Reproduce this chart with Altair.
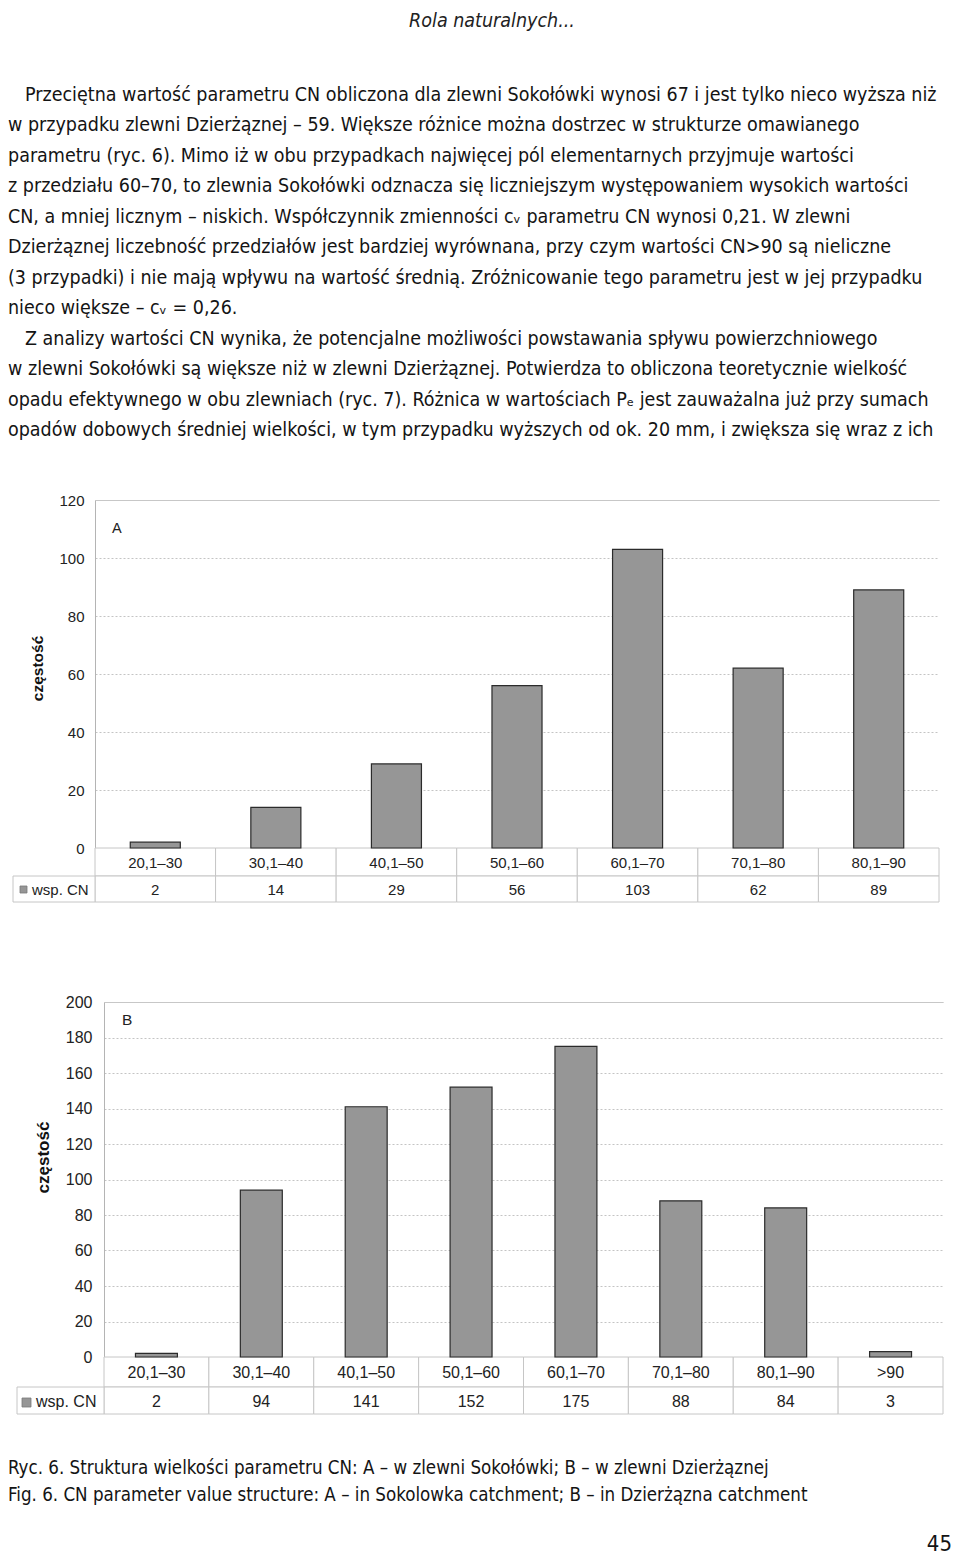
import altair as alt
import pandas as pd

NARROW = "DejaVu Sans Condensed, Liberation Sans Narrow, sans-serif"
SANS = "Liberation Sans, Arial, sans-serif"

header_text = "Rola naturalnych..."
paragraph_lines = [
    "Przeciętna wartość parametru CN obliczona dla zlewni Sokołówki wynosi 67 i jest tylko nieco wyższa niż",
    "w przypadku zlewni Dzierżąznej – 59. Większe różnice można dostrzec w strukturze omawianego",
    "parametru (ryc. 6). Mimo iż w obu przypadkach najwięcej pól elementarnych przyjmuje wartości",
    "z przedziału 60–70, to zlewnia Sokołówki odznacza się liczniejszym występowaniem wysokich wartości",
    "CN, a mniej licznym – niskich. Współczynnik zmienności cᵥ parametru CN wynosi 0,21. W zlewni",
    "Dzierżąznej liczebność przedziałów jest bardziej wyrównana, przy czym wartości CN>90 są nieliczne",
    "(3 przypadki) i nie mają wpływu na wartość średnią. Zróżnicowanie tego parametru jest w jej przypadku",
    "nieco większe – cᵥ = 0,26.",
    "Z analizy wartości CN wynika, że potencjalne możliwości powstawania spływu powierzchniowego",
    "w zlewni Sokołówki są większe niż w zlewni Dzierżąznej. Potwierdza to obliczona teoretycznie wielkość",
    "opadu efektywnego w obu zlewniach (ryc. 7). Różnica w wartościach Pₑ jest zauważalna już przy sumach",
    "opadów dobowych średniej wielkości, w tym przypadku wyższych od ok. 20 mm, i zwiększa się wraz z ich",
]
paragraph_indent = [1, 0, 0, 0, 0, 0, 0, 0, 1, 0, 0, 0]
caption_lines = [
    "Ryc. 6. Struktura wielkości parametru CN: A – w zlewni Sokołówki; B – w zlewni Dzierżąznej",
    "Fig. 6. CN parameter value structure: A – in Sokolowka catchment; B – in Dzierżązna catchment",
]
page_number = "45"

series_name = "wsp. CN"
y_title = "częstość"

cats_a = ["20,1–30", "30,1–40", "40,1–50", "50,1–60", "60,1–70", "70,1–80", "80,1–90"]
vals_a = [2, 14, 29, 56, 103, 62, 89]
ticks_a = [0, 20, 40, 60, 80, 100, 120]

cats_b = ["20,1–30", "30,1–40", "40,1–50", "50,1–60", "60,1–70", "70,1–80", "80,1–90", ">90"]
vals_b = [2, 94, 141, 152, 175, 88, 84, 3]
ticks_b = [0, 20, 40, 60, 80, 100, 120, 140, 160, 180, 200]


def bar_panel(cats, vals, ticks, letter, g):
    df = pd.DataFrame({"cat": cats, "val": vals})
    ymax = ticks[-1]
    xs = alt.Scale(domain=cats, range=[g["pl"], g["pr"]], paddingInner=0, paddingOuter=0)
    ys = alt.Scale(domain=[0, ymax], range=[g["pb"], g["pt"]], nice=False)
    x = alt.X("cat:N", scale=xs, axis=None, sort=cats)
    base = alt.Chart(df)
    fs = g["fs"]

    grid_dash = {"condition": {"test": f"datum.value === {ymax}", "value": [1, 0]}, "value": [2, 2]}
    grid_color = {"condition": {"test": f"datum.value === {ymax}", "value": "#b4b4b4"}, "value": "#c4c4c4"}

    yaxis = alt.Axis(
        orient="left", offset=-g["pl"], values=ticks, grid=True,
        gridDash=grid_dash, gridColor=grid_color, gridWidth=1,
        domain=True, domainColor="#b4b4b4", domainWidth=1, ticks=False,
        labelPadding=g["lp"], labelFontSize=fs, labelFont=SANS, labelColor="#222",
        title=y_title, titleX=g["tx"], titleY=g["ty"], titleAngle=270,
        titleAlign="center", titleBaseline="middle",
        titleFontSize=g["tfs"], titleFontWeight="bold", titleFont=SANS, titleColor="#111",
    )

    r1a, r1b = g["r1"]
    r2a, r2b = g["r2"]
    cells1 = base.mark_rect(fill="white", stroke="#c6c6c6", strokeWidth=1).encode(
        x=x, y=alt.value(r1a), y2=alt.value(r1b))
    cells2 = base.mark_rect(fill="white", stroke="#c6c6c6", strokeWidth=1).encode(
        x=x, y=alt.value(r2a), y2=alt.value(r2b))

    bars = base.mark_bar(width=alt.RelativeBandSize(g["bw"]), color="#969696",
                         stroke="#2b2b2b", strokeWidth=1.2).encode(
        x=x, y=alt.Y("val:Q", scale=ys, axis=yaxis))

    cat_txt = base.mark_text(baseline="middle", fontSize=fs, font=SANS, color="#222").encode(
        x=x, y=alt.value((r1a + r1b) / 2 + 1), text="cat:N")
    val_txt = base.mark_text(baseline="middle", fontSize=fs, font=SANS, color="#222").encode(
        x=x, y=alt.value((r2a + r2b) / 2 + 1), text="val:Q")

    leg = alt.Chart(pd.DataFrame({"t": [series_name]}))
    leg_cell = leg.mark_rect(fill="white", stroke="#c6c6c6", strokeWidth=1).encode(
        x=alt.value(g["ll"]), x2=alt.value(g["pl"]), y=alt.value(r2a), y2=alt.value(r2b))
    sq = g["sq"]
    leg_sq = leg.mark_rect(fill="#969696", stroke="#7a7a7a", strokeWidth=0.8).encode(
        x=alt.value(sq[0]), x2=alt.value(sq[1]), y=alt.value(sq[2]), y2=alt.value(sq[3]))
    leg_txt = leg.mark_text(align="left", baseline="middle", fontSize=fs, font=SANS, color="#222").encode(
        x=alt.value(g["lt"]), y=alt.value((r2a + r2b) / 2 + 1), text="t:N")

    let = alt.Chart(pd.DataFrame({"t": [letter]})).mark_text(
        align="left", baseline="middle", fontSize=g["lfs"], font=SANS, color="#222").encode(
        x=alt.value(g["lx"]), y=alt.value(g["ly"]), text="t:N")

    return alt.layer(cells1, cells2, leg_cell, bars, cat_txt, val_txt, leg_sq, leg_txt, let).properties(
        width=944, height=g["h"])


geo_a = dict(pl=87, pr=931, pt=0, pb=348, h=348, r1=(348, 376), r2=(376, 402), ll=5,
             sq=(12, 19, 386, 393), lt=24, bw=0.415, fs=15, tfs=15.5, lp=11,
             tx=-58, ty=168, lx=104, ly=29, lfs=14.5)
geo_b = dict(pl=96, pr=935, pt=154, pb=509, h=509, r1=(509, 539), r2=(539, 566), ll=9,
             sq=(14, 23, 550, 559), lt=28, bw=0.40, fs=16, tfs=17, lp=12,
             tx=-61, ty=309, lx=114, ly=172, lfs=15.5)

chart_a = bar_panel(cats_a, vals_a, ticks_a, "A", geo_a)
chart_b = bar_panel(cats_b, vals_b, ticks_b, "B", geo_b)

# header + paragraph text panel
lines_df = pd.DataFrame({"i": list(range(len(paragraph_lines))), "text": paragraph_lines,
                         "indent": paragraph_indent})
para = alt.Chart(lines_df).mark_text(align="left", baseline="middle", font=NARROW, fontSize=19.5,
                                     color="#141414").encode(
    x=alt.X("indent:Q", scale=alt.Scale(domain=[0, 1], range=[0, 17]), axis=None),
    y=alt.Y("i:Q", scale=alt.Scale(domain=[0, 11], range=[87, 422]), axis=None),
    text="text:N")
header = alt.Chart(pd.DataFrame({"t": [header_text]})).mark_text(
    align="center", baseline="middle", font=NARROW, fontStyle="italic", fontSize=19.5,
    color="#222").encode(x=alt.value(484), y=alt.value(13), text="t:N")
panel_top = alt.layer(header, para).properties(width=944, height=492)

cap_df = pd.DataFrame({"i": [0, 1], "text": caption_lines})
cap = alt.Chart(cap_df).mark_text(align="left", baseline="middle", font=NARROW, fontSize=18.6,
                                  color="#141414").encode(
    x=alt.value(0),
    y=alt.Y("i:Q", scale=alt.Scale(domain=[0, 1], range=[111, 138]), axis=None),
    text="text:N")
pnum = alt.Chart(pd.DataFrame({"t": [page_number]})).mark_text(
    align="right", baseline="middle", font=NARROW, fontSize=22, color="#141414").encode(
    x=alt.value(944), y=alt.value(187), text="t:N")
panel_bottom = alt.layer(cap, pnum).properties(width=944, height=199)

chart = alt.vconcat(panel_top, chart_a, chart_b, panel_bottom, spacing=0, bounds="flush").properties(
    padding=0).configure_view(strokeWidth=0)

chart.save("out.html", embed_options={"renderer": "svg", "actions": False})
